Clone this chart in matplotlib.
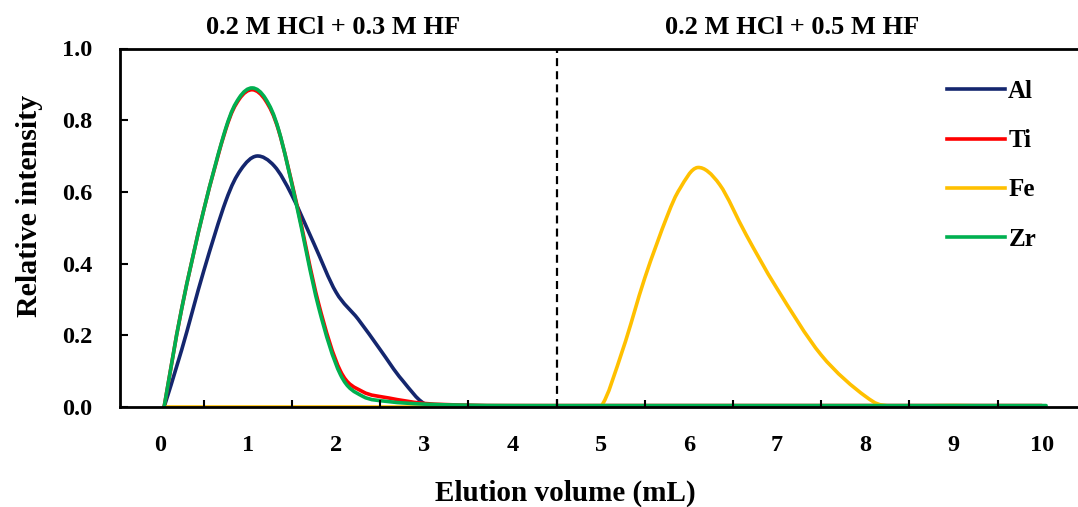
"""Elution curves of Al, Ti, Fe and Zr (relative intensity vs elution volume)."""

import matplotlib

matplotlib.use("Agg")
import matplotlib.pyplot as plt  # noqa: E402
import matplotlib.transforms as mtransforms  # noqa: E402
import numpy as np  # noqa: E402
from matplotlib.lines import Line2D  # noqa: E402
from matplotlib.patches import PathPatch  # noqa: E402
from matplotlib.path import Path  # noqa: E402

# ---- data ----
al_x = [0.05, 0.25, 0.5, 0.75, 0.92, 1.1, 1.3, 1.5, 1.75, 2.0, 2.25, 2.5, 2.75, 3.05, 3.5,
        4.0, 5.0, 6.0, 7.0, 8.0, 9.0, 10.0]
al_y = [0.0, 0.16, 0.38, 0.575, 0.662, 0.70, 0.672, 0.59, 0.455, 0.32, 0.245, 0.16, 0.075,
        0.003, 0.002, 0.002, 0.002, 0.002, 0.002, 0.002, 0.002, 0.002]

ti_x = [0.05, 0.25, 0.5, 0.75, 0.9, 1.05, 1.2, 1.35, 1.55, 1.8, 2.05, 2.3, 2.6, 3.0, 3.5,
        4.0, 5.0, 6.0, 7.0, 8.0, 9.0, 10.0]
ti_y = [0.0, 0.275, 0.55, 0.775, 0.858, 0.885, 0.855, 0.77, 0.57, 0.29, 0.10, 0.043, 0.025,
        0.01, 0.005, 0.004, 0.004, 0.004, 0.004, 0.004, 0.004, 0.004]

fe_x = [0.05, 1.0, 2.0, 3.0, 4.0, 4.75, 5.0, 5.25, 5.5, 5.75, 5.9, 6.1, 6.35, 6.65, 7.0,
        7.5, 8.0, 8.3, 9.0, 10.0]
fe_y = [0.0, 0.0, 0.0, 0.0, 0.0, 0.0, 0.0, 0.16, 0.36, 0.53, 0.61, 0.668, 0.62, 0.48, 0.33,
        0.145, 0.03, 0.002, 0.004, 0.001]

zr_x = [0.05, 0.25, 0.5, 0.75, 0.9, 1.05, 1.2, 1.35, 1.55, 1.8, 2.05, 2.3, 2.6, 3.0, 3.5,
        4.0, 5.0, 6.0, 7.0, 8.0, 9.0, 10.05]
zr_y = [0.0, 0.275, 0.55, 0.778, 0.862, 0.89, 0.86, 0.772, 0.565, 0.28, 0.09, 0.03, 0.015,
        0.008, 0.005, 0.004, 0.004, 0.004, 0.004, 0.004, 0.004, 0.004]

series = [
    ("Al", al_x, al_y, "#14266E"),
    ("Ti", ti_x, ti_y, "#FF0000"),
    ("Fe", fe_x, fe_y, "#FFC000"),
    ("Zr", zr_x, zr_y, "#00B050"),
]

x_ticks = list(range(0, 11))
y_ticks = [0.0, 0.2, 0.4, 0.6, 0.8, 1.0]
split_x = 4.5
phase_labels = [(1.97, "0.2 M HCl + 0.3 M HF"), (7.17, "0.2 M HCl + 0.5 M HF")]


def smooth_path(xs, ys):
    """Excel-style smoothed line: cubic Bezier segments through every point."""
    p = np.column_stack([xs, ys]).astype(float)
    ext = np.vstack([p[0], p, p[-1]])
    verts = [p[0]]
    codes = [Path.MOVETO]
    for i in range(len(p) - 1):
        p0, p1, p2, p3 = ext[i], ext[i + 1], ext[i + 2], ext[i + 3]
        c1 = p1 + (p2 - p0) / 6.0
        c2 = p2 - (p3 - p1) / 6.0
        c1[1] = max(c1[1], 0.0)
        c2[1] = max(c2[1], 0.0)
        verts += [c1, c2, p2]
        codes += [Path.CURVE4] * 3
    return Path(verts, codes)


plt.rcParams["font.family"] = ["Liberation Serif", "DejaVu Serif"]
plt.rcParams["font.weight"] = "bold"

W, H = 1078, 507
fig = plt.figure(figsize=(W / 100, H / 100), dpi=100)
ax = fig.add_axes([120 / W, (H - 407) / H, 961.4 / W, 358.5 / H])

LW = 2.6
handles = []
for name, xs, ys, col in series:
    ax.add_patch(PathPatch(smooth_path(xs, ys), facecolor="none", edgecolor=col,
                           lw=LW, capstyle="round", joinstyle="round"))
    handles.append(Line2D([], [], color=col, lw=LW, label=name))

ax.axvline(split_x, color="black", lw=1.6, dashes=(3.6, 2.3))

ax.set_xlim(-0.45, 10.45)
ax.set_ylim(0, 1.0)

ax.set_xticks(x_ticks)
ax.set_xticklabels([str(t) for t in x_ticks])
ax.set_xticks([t + 0.5 for t in x_ticks[:-1]], minor=True)
ax.tick_params(axis="x", which="major", length=0, pad=20, labelsize=17.5)
ax.tick_params(axis="x", which="minor", direction="in", length=5, width=1.5)
ax.set_yticks(y_ticks)
ax.set_yticklabels([f"{t:.1f}" for t in y_ticks])
ax.tick_params(axis="y", direction="in", length=6, width=1.5, pad=20, labelsize=17.5)

for side in ("left", "bottom", "top"):
    ax.spines[side].set_linewidth(2.0)
ax.spines["right"].set_visible(False)

ax.set_xlabel("Elution volume (mL)", fontsize=21, fontweight="bold")
ax.xaxis.set_label_coords(0.463, (407 - 493) / 358.5)
ax.xaxis.label.set_va("center")
ax.set_ylabel("Relative intensity", fontsize=21.5, fontweight="bold")
ax.yaxis.set_label_coords((29 - 120) / 961.4, (407 - 206) / 358.5)
ax.yaxis.label.set_va("center")

trans = mtransforms.blended_transform_factory(ax.transData, fig.transFigure)
for xpos, txt in phase_labels:
    ax.text(xpos, (H - 27) / H, txt, transform=trans, ha="center", va="center",
            fontsize=19, fontweight="bold", clip_on=False)

ax.legend(handles=handles, loc="upper left", bbox_to_anchor=(947 / W, (H - 80) / H),
          bbox_transform=fig.transFigure, frameon=False, fontsize=18,
          handlelength=2.3, handletextpad=0.15, labelspacing=1.05, borderpad=0,
          borderaxespad=0)

fig.savefig("out.png", dpi=100)
plt.close(fig)
